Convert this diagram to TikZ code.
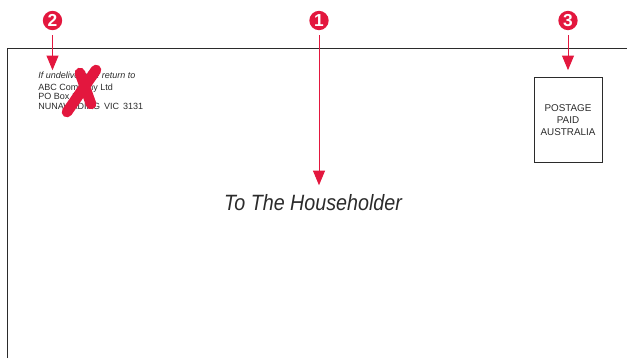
\documentclass[tikz,border=0pt]{standalone}
\usepackage{fontspec}
\setmainfont{Liberation Sans}
\usetikzlibrary{arrows.meta}
\definecolor{markred}{HTML}{E3173E}
\definecolor{inkgray}{HTML}{2B2B2B}
\begin{document}
\begin{tikzpicture}[
  x=0.75pt, y=-0.75pt,
  num/.style={circle, fill=markred, text=white, inner sep=0pt, minimum size=14.5pt,
              font=\fontsize{13}{13}\selectfont\bfseries},
  arr/.style={-{Triangle[length=11pt, width=9pt]}, draw=markred, line width=0.75pt,
              shorten <=3.5pt, shorten >=#1},
  arr/.default=1pt,
  edge/.style={draw=inkgray, line width=0.75pt},
  cross/.style={draw=markred, line width=8pt, line cap=round},
  small/.style={font=\fontsize{6.75}{7.1}\selectfont, text=inkgray, align=left, inner sep=0pt, anchor=north west}
]
  \useasboundingbox (0,0) rectangle (627,358);

  % Envelope
  \draw[edge] (7,358) -- (7,48) -- (627,48);

  % Texts
  \node[small] (ret) at (38,71.5) {\textit{If undeliverable return to}};
  \node[small] (addr) at (38,83.5) {ABC Company Ltd\\PO Box 1\\NUNAWADING\, VIC\, 3131};
  \node[draw=inkgray, line width=0.75pt, minimum width=51pt, minimum height=64pt, inner sep=0pt,
        align=center, text=inkgray, font=\fontsize{7.4}{9}\selectfont] (stamp) at (568,120)
    {POSTAGE\\PAID\\AUSTRALIA};
  \node[font=\fontsize{16.6}{18}\selectfont\itshape\addfontfeature{FakeStretch=0.89}, text=inkgray, inner sep=0pt] (house) at (313,203)
    {To The Householder};

  % Numbers
  \node[num] (n1) at (319,20.5) {1};
  \node[num] (n2) at (52.5,20.5) {2};
  \node[num] (n3) at (568,20.5) {3};

  % Arrows
  \draw[arr=7pt] (n1) -- (n1 |- house.north);
  \draw[arr] (n2) -- (n2 |- ret.north);
  \draw[arr=5pt] (n3) -- (stamp.north);

  % Red cross
  \draw[cross] (96,70) -- (67,112);
  \draw[cross] (80,73) -- (91,104);
\end{tikzpicture}
\end{document}
